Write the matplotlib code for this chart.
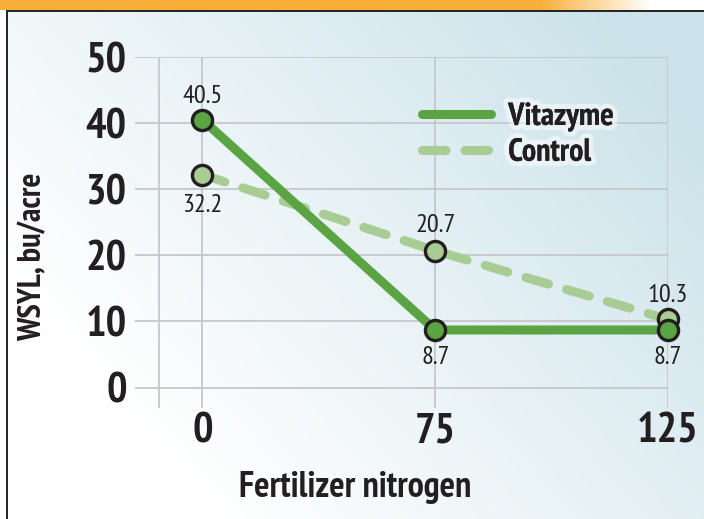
"""
WSYL yield vs fertilizer nitrogen, Vitazyme vs control.
"""
import warnings
warnings.filterwarnings("ignore")

import matplotlib
matplotlib.use("Agg")
import matplotlib.pyplot as plt
import matplotlib.patheffects as pe
from matplotlib import font_manager
import numpy as np

# ── Data ──────────────────────────────────────────────────────────────────────
nitrogen_labels = ["0", "75", "125"]
vitazyme = [40.5, 8.7, 8.7]
control = [32.2, 20.7, 10.3]
y_ticks = [0, 10, 20, 30, 40, 50]

GREEN = "#5ba444"
LIGHT_GREEN = "#a9cb94"
GRID = "#c6c7cc"
INK = "#231f20"

# ── Font: pick a condensed family close to Myriad Condensed ──────────────────
available = {f.name for f in font_manager.fontManager.ttflist}
candidates = ["Myriad Pro", "PT Sans Narrow", "Fira Sans Condensed", "Roboto Condensed",
              "Open Sans Condensed", "Asap Condensed", "Archivo Narrow",
              "Barlow Semi Condensed", "DejaVu Sans"]
FONT = next(f for f in candidates if f in available or f == "DejaVu Sans")
plt.rcParams["font.family"] = [FONT, "DejaVu Sans"]

W, H = 704, 519
fig = plt.figure(figsize=(W / 100, H / 100), dpi=100)

# ── Background: orange band, framed box with diagonal blue gradient ─────────
yy, xx = np.mgrid[0:H, 0:W]
t = np.clip(0.85 * xx / W + 0.55 * (1 - yy / H) - 0.25, 0, 1) ** 1.1
white = np.array([1.0, 1.0, 1.0])
blue = np.array([0.80, 0.89, 0.92])
img = white + (blue - white) * t[..., None]
fade = np.clip((650 - np.arange(W)) / 110, 0, 1)
orange = np.array([0.976, 0.686, 0.227])
band = white + (orange - white) * fade[:, None]
img[:10] = band[None, :, :]
img[10:, :6] = 1.0
img[10:12, 6:] = 0.15
img[10:, 6:8] = 0.15

bg = fig.add_axes([0, 0, 1, 1], zorder=-1)
bg.imshow(img, extent=(0, W, H, 0), aspect="auto", interpolation="nearest")
bg.set_xlim(0, W)
bg.set_ylim(H, 0)
bg.axis("off")

# ── Main axes (pixel-matched placement) ──────────────────────────────────────
left, right, top, bottom = 135, 668, 57, 408
ax = fig.add_axes([left / W, 1 - bottom / H, (right - left) / W, (bottom - top) / H])
ax.patch.set_alpha(0)
x = np.arange(len(nitrogen_labels))
ax.set_xlim(-0.29, 2.0)
ax.set_ylim(-3.1, 50)
for s in ax.spines.values():
    s.set_visible(False)

# grid by hand so it runs past the zero line like the original
ax.hlines(y_ticks, -0.29, 2.0, color=GRID, lw=1.3, zorder=1)
ax.vlines(list(x) + [-0.185], -3.1, 50, color=GRID, lw=1.3, zorder=1)

ax.set_xticks(x)
ax.set_xticklabels(nitrogen_labels)
ax.set_yticks(y_ticks)
ax.tick_params(length=0, labelsize=31, colors=INK)
ax.tick_params(axis="y", pad=6)
ax.tick_params(axis="x", pad=3)
for lab in ax.get_xticklabels() + ax.get_yticklabels():
    lab.set_fontweight("bold")

ax.plot(x, control, color=LIGHT_GREEN, lw=6.5, dashes=[2.6, 2.1],
        dash_capstyle="round", solid_capstyle="round", zorder=3, label="Control")
ax.plot(x, vitazyme, color=GREEN, lw=6.5, solid_capstyle="round",
        solid_joinstyle="round", zorder=4, label="Vitazyme")
ax.plot(x, control, ls="none", marker="o", ms=14.5, mfc=LIGHT_GREEN,
        mec=INK, mew=2.4, zorder=5, clip_on=False)
ax.plot(x, vitazyme, ls="none", marker="o", ms=14.5, mfc=GREEN,
        mec=INK, mew=2.4, zorder=6, clip_on=False)

# value labels
offsets_v = [17, -20, -20]
offsets_c = [-22, 18, 17]
for xi, v, dy in zip(x, vitazyme, offsets_v):
    ax.annotate(f"{v:.1f}", (xi, v), xytext=(0, dy), textcoords="offset points",
                ha="center", va="center", fontsize=19, color=INK, zorder=7)
for xi, v, dy in zip(x, control, offsets_c):
    ax.annotate(f"{v:.1f}", (xi, v), xytext=(0, dy), textcoords="offset points",
                ha="center", va="center", fontsize=19, color=INK, zorder=7)

# legend
handles, labels = ax.get_legend_handles_labels()
leg = ax.legend(handles[::-1], labels[::-1], loc="upper left",
                bbox_to_anchor=(422 / W, 1 - 102 / H), bbox_transform=fig.transFigure,
                frameon=False, borderpad=0, borderaxespad=0, handlelength=2.15,
                handletextpad=0.55, labelspacing=0.18,
                prop={"size": 23, "weight": "bold"})
for txt in leg.get_texts():
    txt.set_color(INK)
    txt.set_path_effects([pe.withStroke(linewidth=7, foreground="white", alpha=0.5), pe.Normal()])

fig.text(355 / W, 1 - 487 / H, "Fertilizer nitrogen", ha="center", va="center",
         fontsize=26, fontweight="bold", color=INK)
fig.text(33 / W, 1 - 257 / H, "WSYL, bu/acre", ha="center", va="center",
         rotation=90, fontsize=23.5, fontweight="bold", color=INK)

fig.savefig("out.png", dpi=100)
